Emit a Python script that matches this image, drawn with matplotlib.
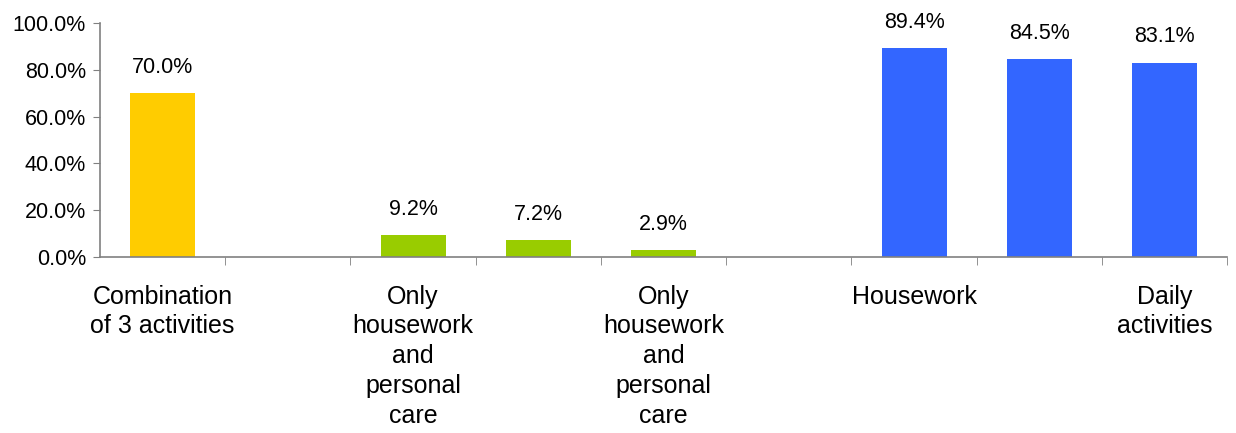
import numpy as np
import matplotlib.pyplot as plt
import matplotlib.ticker as mticker

plt.rcParams['font.family'] = ['Liberation Sans', 'DejaVu Sans']

# --- data ---------------------------------------------------------------
categories = ['Combination\nof 3 activities', '',
              'Only\nhousework\nand\npersonal\ncare', '',
              'Only\nhousework\nand\npersonal\ncare', '',
              'Housework', '', 'Daily\nactivities']
values = [70.0, np.nan, 9.2, 7.2, 2.9, np.nan, 89.4, 84.5, 83.1]
colors = ['#FFCC00', '#FFCC00', '#99CC00', '#99CC00', '#99CC00',
          '#3366FF', '#3366FF', '#3366FF', '#3366FF']

# --- plot ---------------------------------------------------------------
fig = plt.figure(figsize=(12.36, 4.33), dpi=100)
ax = fig.add_axes([0.0809, 0.4065, 0.912, 0.5403])

x = np.arange(len(categories))
ax.bar(x, values, width=0.52, color=colors)

for xi, v in zip(x, values):
    if not np.isnan(v):
        ax.annotate(f'{v:.1f}%', (xi, v), xytext=(0, 11),
                    textcoords='offset points', ha='center', va='bottom',
                    fontsize=15.5)

ax.set_xlim(-0.5, len(categories) - 0.5)
ax.set_ylim(0, 100)
ax.yaxis.set_major_locator(mticker.MultipleLocator(20))
ax.yaxis.set_major_formatter(mticker.FuncFormatter(lambda v, _: f'{v:.1f}%'))

ax.set_xticks(x)
ax.set_xticklabels(categories, fontsize=18, linespacing=1.3, va='top')
ax.set_xticks(np.arange(len(categories)) + 0.5, minor=True)
ax.tick_params(axis='x', which='major', length=0, pad=20)
ax.tick_params(axis='x', which='minor', length=6, color='#808080', direction='out')
ax.tick_params(axis='y', labelsize=15.5, length=5, color='#808080', pad=5)

for s in ['top', 'right']:
    ax.spines[s].set_visible(False)
for s in ['left', 'bottom']:
    ax.spines[s].set_color('#808080')
    ax.spines[s].set_linewidth(1.2)

fig.savefig('out.png', dpi=100)
